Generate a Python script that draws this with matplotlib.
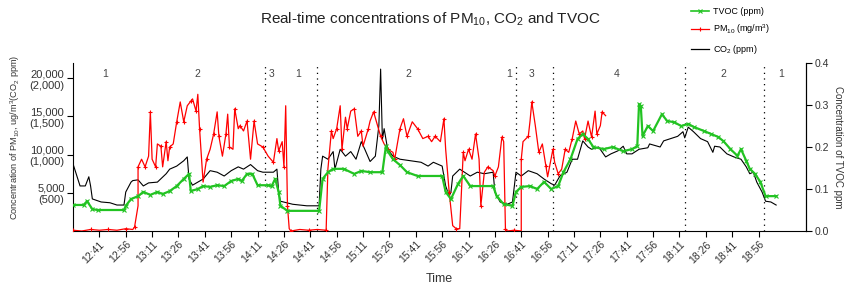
import matplotlib
matplotlib.use("Agg")
import matplotlib.pyplot as plt
from matplotlib.lines import Line2D

plt.rcParams["font.family"] = ["Liberation Sans", "DejaVu Sans"]
plt.rcParams["mathtext.fontset"] = "custom"
plt.rcParams["mathtext.rm"] = "Liberation Sans"
plt.rcParams["mathtext.it"] = "Liberation Sans:italic"

# --- data ---------------------------------------------------------------
pm10_time = ["12:26", "12:31", "12:36", "12:41", "12:46", "12:51", "12:56", "13:00",
             "13:01", "13:03", "13:03", "13:05", "13:07", "13:09", "13:10", "13:11",
             "13:13", "13:14", "13:16", "13:17", "13:19", "13:20", "13:21", "13:23",
             "13:25", "13:27", "13:29", "13:31", "13:33", "13:34", "13:36", "13:37",
             "13:38", "13:40", "13:42", "13:44", "13:46", "13:48", "13:49", "13:51",
             "13:53", "13:54", "13:55", "13:57", "13:58", "14:00", "14:01", "14:03",
             "14:05", "14:07", "14:09", "14:11", "14:14", "14:17", "14:20", "14:22",
             "14:23", "14:25", "14:26", "14:27", "14:28", "14:29", "14:30", "14:35",
             "14:40", "14:45", "14:50", "14:51", "14:53", "14:54", "14:56", "14:58",
             "14:59", "15:01", "15:02", "15:04", "15:06", "15:08", "15:10", "15:11",
             "15:14", "15:15", "15:17", "15:19", "15:21", "15:23", "15:25", "15:28",
             "15:29", "15:31", "15:32", "15:34", "15:36", "15:39", "15:42", "15:45",
             "15:48", "15:50", "15:52", "15:55", "15:57", "15:58", "16:00", "16:02",
             "16:04", "16:06", "16:08", "16:09", "16:11", "16:13", "16:15", "16:17",
             "16:18", "16:20", "16:22", "16:25", "16:26", "16:28", "16:30", "16:31",
             "16:32", "16:33", "16:37", "16:41", "16:41", "16:42", "16:45", "16:46",
             "16:47", "16:49", "16:51", "16:53", "16:55", "16:56", "16:59", "17:00",
             "17:02", "17:04", "17:06", "17:08", "17:10", "17:12", "17:14", "17:16",
             "17:17", "17:19", "17:21", "17:23", "17:24", "17:26", "17:27", "17:29"]
pm10_value = [100, 0, 200, 100, 200, 100, 300, 200,
              500, 3300, 8400, 9400, 8400, 9800, 15600, 9400,
              8400, 11400, 11100, 8400, 11700, 9200, 11000, 11400,
              14300, 16900, 14300, 16400, 17000, 17300, 15700, 17900,
              13400, 6400, 9400, 10700, 12700, 15600, 12400, 9800,
              12700, 15300, 11000, 10700, 16000, 13400, 13800, 13100,
              14400, 9400, 14400, 11400, 11000, 9800, 9000, 12100,
              10500, 11700, 8400, 16400, 3300, 300, 0, 200,
              100, 200, 100, 8100, 13100, 12100, 13400, 16400,
              10700, 14900, 13400, 15700, 16000, 12400, 13100, 11100,
              13400, 14400, 15600, 14000, 12400, 11400, 10700, 10300,
              9400, 12100, 13400, 14700, 12400, 14300, 13400, 12100,
              12400, 11700, 12400, 11700, 14700, 10700, 5100, 700,
              300, 300, 10300, 9200, 10700, 9400, 12700, 9400,
              3300, 7700, 8400, 7900, 7200, 8400, 12300, 11700,
              300, 0, 100, 0, 9400, 11700, 12400, 14400,
              16900, 13800, 10300, 11400, 8500, 7100, 10700, 9000,
              7500, 8100, 10700, 10300, 12100, 14400, 12700, 13100,
              12100, 14400, 12300, 15700, 12700, 13800, 15600, 15100]

co2_time = ["12:26", "12:30", "12:33", "12:35", "12:36", "12:37", "12:42", "12:47",
            "12:51", "12:55", "12:56", "12:59", "13:00", "13:03", "13:06", "13:09",
            "13:14", "13:19", "13:21", "13:25", "13:29", "13:31", "13:32", "13:34",
            "13:37", "13:40", "13:44", "13:48", "13:52", "13:56", "14:00", "14:03",
            "14:07", "14:11", "14:14", "14:20", "14:22", "14:23", "14:24", "14:31",
            "14:39", "14:46", "14:47", "14:48", "14:51", "14:54", "14:55", "14:58",
            "15:01", "15:04", "15:07", "15:10", "15:12", "15:15", "15:18", "15:20",
            "15:21", "15:22", "15:23", "15:25", "15:28", "15:32", "15:38", "15:44",
            "15:48", "15:51", "15:56", "15:58", "16:00", "16:01", "16:02", "16:06",
            "16:12", "16:16", "16:20", "16:25", "16:26", "16:29", "16:33", "16:36",
            "16:38", "16:41", "16:45", "16:50", "16:54", "16:58", "17:00", "17:03",
            "17:07", "17:10", "17:13", "17:16", "17:19", "17:21", "17:25", "17:29",
            "17:32", "17:36", "17:39", "17:41", "17:44", "17:48", "17:53", "17:54",
            "18:00", "18:02", "18:06", "18:10", "18:13", "18:14", "18:16", "18:19",
            "18:23", "18:27", "18:30", "18:31", "18:34", "18:38", "18:42", "18:46",
            "18:49", "18:51", "18:53", "18:55", "18:58", "19:00", "19:03", "19:06"]
co2_value = [880, 590, 590, 710, 590, 420, 380, 370,
             340, 340, 510, 640, 660, 670, 590, 630,
             640, 750, 810, 850, 920, 970, 680, 600,
             640, 680, 790, 770, 720, 790, 840, 810,
             870, 790, 770, 770, 810, 510, 390, 350,
             330, 330, 810, 980, 940, 1040, 810, 1070,
             980, 1040, 940, 1170, 1070, 910, 980, 1380,
             2120, 1200, 1340, 1070, 980, 940, 920, 900,
             850, 900, 850, 590, 460, 510, 720, 810,
             720, 770, 750, 770, 510, 380, 350, 380,
             770, 720, 790, 750, 680, 620, 600, 720,
             770, 940, 940, 1180, 1100, 1070, 1100, 970,
             1010, 1050, 1110, 1010, 1010, 1070, 1090, 1140,
             1100, 1180, 1210, 1240, 1300, 1220, 1360, 1300,
             1210, 1170, 1030, 1110, 1100, 1010, 970, 940,
             840, 750, 770, 640, 510, 390, 380, 340]

tvoc_time = ["12:26", "12:32", "12:34", "12:37", "12:40", "12:55", "12:56", "12:59",
             "13:03", "13:06", "13:10", "13:14", "13:17", "13:21", "13:25", "13:29",
             "13:32", "13:33", "13:37", "13:40", "13:44", "13:48", "13:52", "13:56",
             "14:00", "14:02", "14:05", "14:08", "14:11", "14:17", "14:19", "14:21",
             "14:23", "14:24", "14:28", "14:46", "14:48", "14:51", "14:54", "15:00",
             "15:06", "15:10", "15:15", "15:22", "15:24", "15:25", "15:28", "15:32",
             "15:36", "15:42", "15:56", "15:58", "16:01", "16:05", "16:08", "16:12",
             "16:25", "16:27", "16:31", "16:36", "16:38", "16:41", "16:46", "16:50",
             "16:54", "16:58", "17:02", "17:05", "17:09", "17:13", "17:16", "17:19",
             "17:22", "17:28", "17:33", "17:39", "17:44", "17:47", "17:48", "17:49",
             "17:50", "17:53", "17:56", "18:01", "18:04", "18:08", "18:12", "18:16",
             "18:19", "18:25", "18:29", "18:33", "18:36", "18:40", "18:44", "18:46",
             "18:49", "18:51", "18:54", "18:57", "19:00", "19:06"]
tvoc_value = [0.062, 0.062, 0.071, 0.052, 0.050, 0.050, 0.060, 0.076,
              0.083, 0.093, 0.086, 0.093, 0.088, 0.095, 0.107, 0.124,
              0.136, 0.095, 0.100, 0.107, 0.105, 0.109, 0.107, 0.119,
              0.124, 0.119, 0.136, 0.136, 0.109, 0.109, 0.107, 0.124,
              0.093, 0.060, 0.048, 0.048, 0.124, 0.140, 0.148, 0.148,
              0.136, 0.143, 0.140, 0.140, 0.202, 0.190, 0.171, 0.157,
              0.140, 0.131, 0.131, 0.093, 0.076, 0.112, 0.131, 0.107,
              0.107, 0.083, 0.064, 0.060, 0.093, 0.105, 0.107, 0.100,
              0.117, 0.100, 0.107, 0.140, 0.171, 0.219, 0.231, 0.219,
              0.200, 0.195, 0.200, 0.190, 0.195, 0.202, 0.302, 0.298,
              0.226, 0.250, 0.238, 0.278, 0.262, 0.259, 0.250, 0.255,
              0.248, 0.238, 0.231, 0.224, 0.214, 0.195, 0.179, 0.195,
              0.167, 0.148, 0.136, 0.117, 0.083, 0.083]

tick_labels = ["12:41", "12:56", "13:11", "13:26", "13:41", "13:56", "14:11", "14:26",
               "14:41", "14:56", "15:11", "15:26", "15:41", "15:56", "16:11", "16:26",
               "16:41", "16:56", "17:11", "17:26", "17:41", "17:56", "18:11", "18:26",
               "18:41", "18:56"]
left_ticks = [5000, 10000, 15000, 20000]
left_tick_labels = ["5,000\n(500)", "10,000\n(1,000)", "15,000\n(1,500)", "20,000\n(2,000)"]
right_ticks = [0.0, 0.1, 0.2, 0.3, 0.4]

divider_times = ["14:15", "14:45", "16:38", "16:59", "18:14", "18:59"]
zone_labels = ["1", "2", "3", "1", "2", "1", "3", "4", "2", "1"]
zone_times = ["12:44", "13:37", "14:19", "14:34", "15:37", "16:34", "16:47", "17:35",
              "18:36", "19:09"]


def to_min(hhmm):
    h, m = hhmm.split(":")
    return int(h) * 60 + int(m)


GREEN = "#22c322"
TXT = "#333333"

fig = plt.figure(figsize=(8.44, 2.93), dpi=100)
ax = fig.add_axes([0.0865, 0.2116, 0.8685, 0.5734])
ax2 = ax.twinx()

ax.plot([to_min(t) for t in co2_time], [v * 10 for v in co2_value],
        color="black", lw=0.8, zorder=2)
ax.plot([to_min(t) for t in pm10_time], pm10_value, color="red", lw=0.9,
        marker="+", ms=3.5, mew=0.8, markevery=2, zorder=3)
ax2.plot([to_min(t) for t in tvoc_time], tvoc_value, color=GREEN, lw=1.6,
         marker="x", ms=3, mew=0.8)

for t in divider_times:
    ax.axvline(to_min(t), color="black", lw=0.9, ls=(0, (1, 3.5)), zorder=1)
for lab, t in zip(zone_labels, zone_times):
    ax.text(to_min(t), 0.935, lab, transform=ax.get_xaxis_transform(),
            ha="center", va="center", fontsize=7.5, color="#444444")

ax.set_xlim(to_min("12:26"), to_min("19:23"))
ax.set_ylim(0, 22000)
ax2.set_ylim(0, 0.4)

ax.set_xticks([to_min(t) for t in tick_labels])
ax.set_xticklabels(tick_labels, rotation=45, ha="right", rotation_mode="anchor",
                   fontsize=7.5, color=TXT)
ax.set_yticks(left_ticks)
ax.set_yticklabels(left_tick_labels, fontsize=8, color=TXT, multialignment="center")
ax2.set_yticks(right_ticks)
ax2.set_yticklabels([f"{v:.1f}" for v in right_ticks], fontsize=7.5, color=TXT)

for a in (ax, ax2):
    a.spines["top"].set_visible(False)
    a.tick_params(direction="out", length=4, width=0.8, pad=2)
ax2.spines["left"].set_visible(False)
ax2.spines["bottom"].set_visible(False)

ax.set_xlabel("Time", fontsize=9, color=TXT, labelpad=6)
ax.set_ylabel("Concentration of PM$_{10}$, ug/m$^3$(CO$_2$ ppm)", fontsize=6.6,
              color=TXT)
ax.yaxis.set_label_coords(-0.07, 0.56)
ax2.set_ylabel("Concentration of TVOC ppm", fontsize=7, color=TXT,
               rotation=-90, labelpad=10)

fig.text(0.51, 0.935, "Real-time concentrations of PM$_{10}$, CO$_2$ and TVOC",
         ha="center", va="center", fontsize=11, color="#222222")

handles = [
    Line2D([], [], color=GREEN, lw=1.2, marker="x", ms=3, mew=0.8),
    Line2D([], [], color="red", lw=0.9, marker="+", ms=3.5, mew=0.8),
    Line2D([], [], color="black", lw=0.9),
]
fig.legend(handles, ["TVOC (ppm)", "PM$_{10}$ (mg/m$^3$)", "CO$_2$ (ppm)"],
           loc="upper left", bbox_to_anchor=(0.812, 0.995), frameon=False,
           fontsize=6.5, handlelength=2.0, handletextpad=0.5, labelspacing=0.75,
           borderaxespad=0.2)

fig.savefig("out.png", dpi=100)
